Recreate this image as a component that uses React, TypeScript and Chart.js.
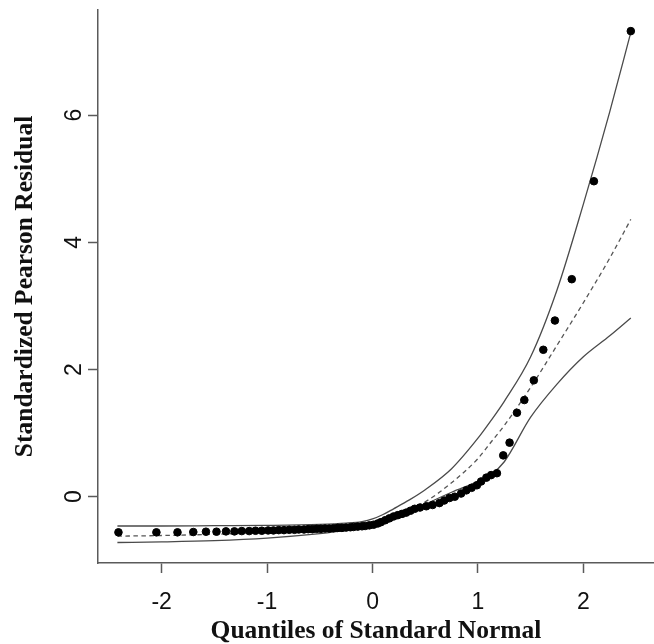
import React, { useEffect, useRef } from "react";
import { Chart, registerables } from "chart.js";

Chart.register(...registerables);

// Normal quantiles (x) and standardized Pearson residuals (y)
const quantiles = [
  -2.41, -2.05, -1.85, -1.7, -1.58, -1.48, -1.39, -1.31, -1.24, -1.17, -1.11, -1.05,
  -0.99, -0.94, -0.89, -0.84, -0.79, -0.74, -0.7, -0.65, -0.61, -0.57, -0.53, -0.49,
  -0.45, -0.41, -0.37, -0.33, -0.29, -0.25, -0.21, -0.18, -0.14, -0.1, -0.07, -0.03,
  0.01, 0.05, 0.08, 0.12, 0.16, 0.2, 0.24, 0.28, 0.32, 0.36, 0.4, 0.45,
  0.51, 0.57, 0.635, 0.68, 0.73, 0.78, 0.84, 0.89, 0.94, 0.99, 1.03, 1.08,
  1.125, 1.18, 1.24, 1.3, 1.37, 1.44, 1.53, 1.62, 1.73, 1.89, 2.1, 2.45,
];
const residuals = [
  -0.56, -0.56, -0.56, -0.555, -0.55, -0.55, -0.545, -0.545, -0.54, -0.54, -0.535, -0.535,
  -0.53, -0.53, -0.525, -0.525, -0.52, -0.52, -0.515, -0.515, -0.51, -0.51, -0.505, -0.505,
  -0.5, -0.5, -0.495, -0.49, -0.49, -0.485, -0.48, -0.475, -0.47, -0.465, -0.46, -0.45,
  -0.44, -0.42, -0.4, -0.37, -0.34, -0.31, -0.29, -0.27, -0.25, -0.22, -0.19, -0.17,
  -0.15, -0.13, -0.1, -0.06, -0.02, 0.0, 0.05, 0.1, 0.14, 0.18, 0.24, 0.3,
  0.34, 0.37, 0.65, 0.85, 1.32, 1.52, 1.83, 2.31, 2.77, 3.42, 4.96, 7.32,
];

// Simulated envelope: upper (solid), median (dashed), lower (solid)
const upperX = [-2.42, -2, -1.5, -1, -0.5, -0.25, -0.1, 0, 0.1, 0.2, 0.35, 0.5, 0.75, 1, 1.125, 1.25, 1.5, 1.75, 2, 2.25, 2.45];
const upperEnv = [-0.46, -0.46, -0.455, -0.45, -0.435, -0.415, -0.39, -0.35, -0.28, -0.19, -0.05, 0.11, 0.44, 0.92, 1.2, 1.5, 2.2, 3.25, 4.6, 6.05, 7.3];
const medianX = [-2.42, -2, -1.5, -1, -0.5, -0.25, 0, 0.25, 0.5, 0.75, 1, 1.125, 1.25, 1.5, 1.75, 2, 2.25, 2.45];
const medianEnv = [-0.62, -0.61, -0.59, -0.56, -0.52, -0.48, -0.42, -0.27, -0.08, 0.22, 0.6, 0.86, 1.12, 1.72, 2.38, 3.05, 3.75, 4.36];
const lowerX = [-2.42, -2, -1.5, -1, -0.5, -0.25, 0, 0.25, 0.5, 0.75, 1, 1.125, 1.25, 1.5, 1.75, 2, 2.25, 2.45];
const lowerEnv = [-0.72, -0.71, -0.69, -0.65, -0.58, -0.53, -0.46, -0.32, -0.12, 0.07, 0.24, 0.35, 0.55, 1.25, 1.77, 2.2, 2.53, 2.81];

const xTicks = [-2, -1, 0, 1, 2];
const yTicks = [0, 2, 4, 6];

const xTitle = "Quantiles of Standard Normal";
const yTitle = "Standardized Pearson Residual";

const toXY = (xs: number[], ys: number[]) => xs.map((x, i) => ({ x, y: ys[i] }));

export default function App() {
  const ref = useRef<HTMLCanvasElement | null>(null);

  useEffect(() => {
    if (!ref.current) return;
    const axisColor = "#5a5a5a";
    const lineDs = (label: string, xs: number[], ys: number[], dash: number[], color: string) => ({
      label,
      data: toXY(xs, ys),
      showLine: true,
      borderColor: color,
      borderWidth: 1.3,
      borderDash: dash,
      pointRadius: 0,
      cubicInterpolationMode: "monotone" as const,
      fill: false,
    });
    const chart = new Chart(ref.current, {
      type: "scatter",
      data: {
        datasets: [
          {
            label: "Residuals",
            data: toXY(quantiles, residuals),
            backgroundColor: "#000",
            borderColor: "#000",
            pointRadius: 3.8,
            pointHoverRadius: 3.8,
            showLine: false,
          },
          lineDs("Upper", upperX, upperEnv, [], "#4a4a4a"),
          lineDs("Median", medianX, medianEnv, [4.5, 3.5], "#555"),
          lineDs("Lower", lowerX, lowerEnv, [], "#4a4a4a"),
        ],
      },
      options: {
        responsive: false,
        animation: false,
        devicePixelRatio: 1,
        layout: { autoPadding: false, padding: { top: 10, right: 0, bottom: 0, left: 0 } },
        plugins: { legend: { display: false }, tooltip: { enabled: false } },
        scales: {
          x: {
            type: "linear",
            min: -2.604,
            max: 2.67,
            afterFit: (s: any) => {
              s.height = 81;
              s.paddingLeft = 0;
              s.paddingRight = 0;
            },
            afterBuildTicks: (s: any) => {
              s.ticks = xTicks.map((v) => ({ value: v }));
            },
            border: { display: true, color: axisColor, width: 1.5 },
            grid: {
              drawOnChartArea: false,
              drawTicks: true,
              tickLength: 10,
              tickColor: axisColor,
              tickWidth: 1.5,
            },
            ticks: {
              color: "#111",
              padding: 16,
              maxRotation: 0,
              minRotation: 0,
              font: { family: "'Liberation Sans', Arial, sans-serif", size: 23 },
              callback: (v: any) => String(v),
            },
            title: {
              display: true,
              text: xTitle,
              color: "#111",
              font: { family: "'Liberation Serif', 'Times New Roman', serif", size: 25.5, weight: "bold", lineHeight: 1 },
              padding: { top: 0, bottom: 0 },
            },
          },
          y: {
            type: "linear",
            min: -1.042,
            max: 7.652,
            afterFit: (s: any) => {
              s.width = 98;
              s.paddingTop = 0;
              s.paddingBottom = 0;
            },
            afterBuildTicks: (s: any) => {
              s.ticks = yTicks.map((v) => ({ value: v }));
            },
            border: { display: true, color: axisColor, width: 1.5 },
            grid: {
              drawOnChartArea: false,
              drawTicks: true,
              tickLength: 10,
              tickColor: axisColor,
              tickWidth: 1.5,
            },
            ticks: {
              color: "#111",
              padding: 7,
              minRotation: 90,
              maxRotation: 90,
              crossAlign: "center",
              font: { family: "'Liberation Sans', Arial, sans-serif", size: 23 },
              callback: (v: any) => String(v),
            },
            title: {
              display: true,
              text: yTitle,
              color: "#111",
              font: { family: "'Liberation Serif', 'Times New Roman', serif", size: 25.5, weight: "bold", lineHeight: 1 },
              padding: { top: 12.5, bottom: 0 },
            },
          },
        },
      },
    } as any);
    return () => chart.destroy();
  }, []);

  return (
    <div style={{ position: "fixed", left: 0, top: 0, width: 654, height: 644, background: "#fff" }}>
      <canvas ref={ref} width={654} height={644} style={{ width: 654, height: 644, display: "block" }} />
    </div>
  );
}
